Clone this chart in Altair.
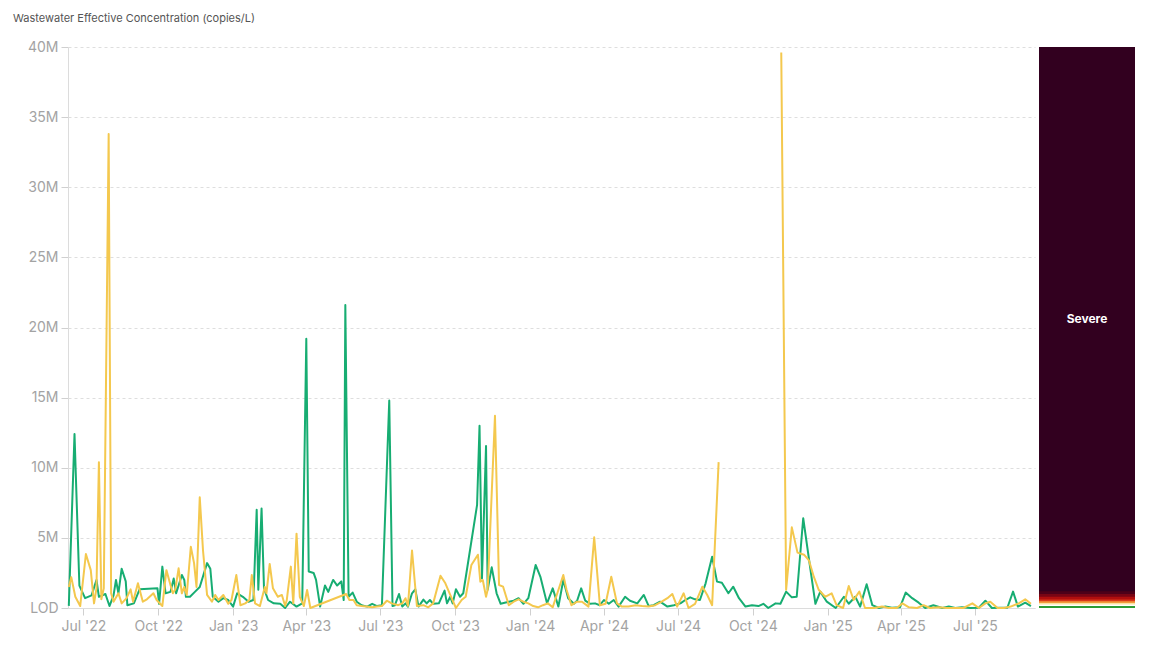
import altair as alt
import pandas as pd

chart_title = "Wastewater Effective Concentration (copies/L)"

# Green series (values in millions of copies/L)
green_dates = [
    "2022-06-13", "2022-06-20", "2022-06-26", "2022-07-03", "2022-07-11", "2022-07-17", "2022-07-20",
    "2022-07-28", "2022-08-02", "2022-08-07", "2022-08-10", "2022-08-13", "2022-08-17", "2022-08-22",
    "2022-08-24", "2022-09-01", "2022-09-08", "2022-09-30", "2022-10-02", "2022-10-06", "2022-10-10",
    "2022-10-16", "2022-10-20", "2022-10-23", "2022-10-30", "2022-11-02", "2022-11-04", "2022-11-09",
    "2022-11-15", "2022-11-21", "2022-11-30", "2022-12-04", "2022-12-07", "2022-12-14", "2022-12-20",
    "2022-12-26", "2023-01-01", "2023-01-06", "2023-01-13", "2023-01-20", "2023-01-26", "2023-01-30",
    "2023-02-01", "2023-02-05", "2023-02-08", "2023-02-13", "2023-02-20", "2023-02-28", "2023-03-06",
    "2023-03-12", "2023-03-20", "2023-03-27", "2023-04-01", "2023-04-04", "2023-04-10", "2023-04-13",
    "2023-04-18", "2023-04-24", "2023-04-28", "2023-05-04", "2023-05-09", "2023-05-14", "2023-05-17",
    "2023-05-19", "2023-05-23", "2023-05-28", "2023-06-02", "2023-06-08", "2023-06-15", "2023-06-21",
    "2023-06-27", "2023-07-03", "2023-07-12", "2023-07-16", "2023-07-19", "2023-07-24", "2023-07-28",
    "2023-08-01", "2023-08-04", "2023-08-09", "2023-08-13", "2023-08-17", "2023-08-23", "2023-08-27",
    "2023-08-31", "2023-09-04", "2023-09-11", "2023-09-18", "2023-09-21", "2023-09-25", "2023-09-28",
    "2023-10-02", "2023-10-07", "2023-10-11", "2023-10-28", "2023-10-31", "2023-11-03", "2023-11-08",
    "2023-11-10", "2023-11-15", "2023-11-21", "2023-11-26", "2023-12-06", "2023-12-12", "2023-12-18",
    "2023-12-24", "2023-12-30", "2024-01-08", "2024-01-14", "2024-01-22", "2024-01-29", "2024-02-05",
    "2024-02-11", "2024-02-17", "2024-02-24", "2024-02-28", "2024-03-04", "2024-03-09", "2024-03-15",
    "2024-03-21", "2024-03-27", "2024-04-01", "2024-04-07", "2024-04-13", "2024-04-19", "2024-04-27",
    "2024-05-03", "2024-05-12", "2024-05-20", "2024-05-26", "2024-06-01", "2024-06-09", "2024-06-18",
    "2024-06-26", "2024-07-04", "2024-07-10", "2024-07-16", "2024-07-22", "2024-07-28", "2024-08-04",
    "2024-08-12", "2024-08-18", "2024-08-24", "2024-09-01", "2024-09-07", "2024-09-14", "2024-09-22",
    "2024-09-30", "2024-10-08", "2024-10-14", "2024-10-20", "2024-10-29", "2024-11-04", "2024-11-11",
    "2024-11-18", "2024-11-24", "2024-12-02", "2024-12-11", "2024-12-17", "2024-12-23", "2024-12-31",
    "2025-01-11", "2025-01-21", "2025-01-27", "2025-02-04", "2025-02-10", "2025-02-18", "2025-02-25",
    "2025-03-05", "2025-03-13", "2025-03-21", "2025-03-31", "2025-04-07", "2025-04-15", "2025-04-23",
    "2025-05-01", "2025-05-11", "2025-05-22", "2025-05-30", "2025-06-07", "2025-06-15", "2025-06-26",
    "2025-07-06", "2025-07-14", "2025-07-22", "2025-08-01", "2025-08-10", "2025-08-17", "2025-08-23",
    "2025-09-01", "2025-09-08",
]
green_values = [
    0.15, 12.4, 1.6, 0.7, 0.9, 2.0, 0.8,
    1.0, 0.14, 0.9, 2.0, 1.05, 2.8, 1.9,
    0.2, 0.33, 1.33, 1.4, 0.3, 2.95, 1.05,
    1.15, 2.1, 1.05, 2.35, 2.0, 0.8, 0.8,
    1.15, 1.5, 3.2, 2.8, 0.8, 0.45, 0.7,
    0.57, 0.1, 1.05, 0.8, 0.45, 0.57, 7.0,
    1.3, 7.1, 1.4, 0.57, 0.33, 0.3, 0.0,
    0.45, 0.1, 0.33, 19.2, 2.6, 2.5, 2.0,
    0.1, 1.6, 1.15, 2.0, 1.6, 1.9, 0.57,
    21.6, 0.8, 1.1, 0.45, 0.2, 0.1, 0.3,
    0.14, 0.2, 14.8, 0.14, 0.2, 1.0, 0.1,
    0.33, 0.1, 1.05, 1.33, 0.1, 0.6, 0.33,
    0.57, 0.3, 0.33, 1.24, 0.33, 0.8, 0.33,
    1.33, 0.8, 1.05, 7.35, 13.0, 2.1, 11.55,
    1.3, 2.9, 1.05, 0.3, 0.45, 0.52, 0.7,
    0.3, 0.7, 3.07, 2.2, 0.33, 1.4, 0.1,
    2.0, 0.7, 0.3, 0.52, 1.4, 0.52, 0.3,
    0.33, 0.2, 0.57, 0.3, 0.57, 0.1, 0.8,
    0.52, 0.33, 0.93, 0.14, 0.2, 0.45, 0.1,
    0.2, 0.33, 0.57, 0.76, 0.62, 0.57, 1.76,
    3.66, 1.88, 1.8, 1.05, 1.52, 0.7, 0.1,
    0.2, 0.14, 0.3, 0.0, 0.33, 0.3, 1.17,
    0.76, 0.8, 6.4, 2.7, 0.3, 1.17, 0.45,
    0.0, 0.8, 0.3, 0.8, 0.1, 1.7, 0.2,
    0.0, 0.1, 0.02, 0.05, 1.1, 0.7, 0.38,
    0.0, 0.2, 0.0, 0.1, 0.0, 0.05, 0.0,
    0.02, 0.52, 0.0, 0.02, 0.02, 1.17, 0.1,
    0.38, 0.14,
]

# Yellow series (values in millions of copies/L); no reports after the gap start until November 2024
yellow_dates = [
    "2022-06-13", "2022-06-16", "2022-06-21", "2022-06-27", "2022-07-04", "2022-07-10", "2022-07-14",
    "2022-07-17", "2022-07-20", "2022-07-23", "2022-07-26", "2022-08-01", "2022-08-04", "2022-08-07",
    "2022-08-13", "2022-08-17", "2022-08-23", "2022-08-28", "2022-08-31", "2022-09-06", "2022-09-12",
    "2022-09-17", "2022-09-25", "2022-09-29", "2022-10-06", "2022-10-11", "2022-10-16", "2022-10-19",
    "2022-10-22", "2022-10-26", "2022-10-30", "2022-11-02", "2022-11-05", "2022-11-10", "2022-11-14",
    "2022-11-17", "2022-11-21", "2022-11-25", "2022-11-30", "2022-12-06", "2022-12-10", "2022-12-14",
    "2022-12-20", "2022-12-26", "2022-12-30", "2023-01-05", "2023-01-10", "2023-01-16", "2023-01-21",
    "2023-01-24", "2023-01-28", "2023-02-03", "2023-02-09", "2023-02-11", "2023-02-15", "2023-02-19",
    "2023-02-25", "2023-03-02", "2023-03-06", "2023-03-08", "2023-03-13", "2023-03-16", "2023-03-20",
    "2023-03-24", "2023-03-29", "2023-04-02", "2023-04-06", "2023-05-20", "2023-05-24", "2023-05-29",
    "2023-06-02", "2023-06-08", "2023-06-14", "2023-06-21", "2023-06-27", "2023-07-03", "2023-07-09",
    "2023-07-15", "2023-07-23", "2023-07-28", "2023-08-01", "2023-08-04", "2023-08-09", "2023-08-15",
    "2023-08-23", "2023-08-29", "2023-09-04", "2023-09-13", "2023-09-19", "2023-09-25", "2023-10-02",
    "2023-10-09", "2023-10-14", "2023-10-21", "2023-10-29", "2023-11-01", "2023-11-04", "2023-11-08",
    "2023-11-10", "2023-11-19", "2023-11-24", "2023-11-29", "2023-12-06", "2023-12-12", "2023-12-18",
    "2023-12-24", "2023-12-30", "2024-01-05", "2024-01-11", "2024-01-17", "2024-01-23", "2024-01-29",
    "2024-02-11", "2024-02-15", "2024-02-21", "2024-02-28", "2024-03-05", "2024-03-13", "2024-03-20",
    "2024-03-27", "2024-04-03", "2024-04-10", "2024-04-17", "2024-04-23", "2024-05-01", "2024-05-10",
    "2024-05-18", "2024-05-26", "2024-06-03", "2024-06-11", "2024-06-18", "2024-06-24", "2024-06-30",
    "2024-07-08", "2024-07-14", "2024-07-22", "2024-07-31", "2024-08-06", "2024-08-12", "2024-08-20",
    "2024-11-05", "2024-11-11", "2024-11-18", "2024-11-25", "2024-12-03", "2024-12-09", "2024-12-15",
    "2024-12-21", "2024-12-29", "2025-01-06", "2025-01-12", "2025-01-20", "2025-01-27", "2025-02-02",
    "2025-02-09", "2025-02-16", "2025-02-27", "2025-03-09", "2025-03-17", "2025-03-27", "2025-04-03",
    "2025-04-11", "2025-04-21", "2025-04-29", "2025-05-07", "2025-05-18", "2025-05-28", "2025-06-07",
    "2025-06-17", "2025-06-28", "2025-07-06", "2025-07-14", "2025-07-20", "2025-07-29", "2025-08-06",
    "2025-08-14", "2025-08-24", "2025-09-01", "2025-09-08",
]
yellow_values = [
    1.5, 2.2, 0.8, 0.14, 3.85, 2.7, 0.33,
    1.4, 10.4, 0.62, 1.4, 33.8, 1.05, 0.45,
    1.05, 0.33, 0.7, 1.33, 0.45, 1.76, 0.45,
    0.62, 1.05, 0.57, 0.14, 2.7, 1.64, 1.05,
    1.33, 2.83, 1.05, 1.5, 0.93, 4.37, 3.2,
    1.5, 7.9, 4.1, 0.93, 0.45, 0.93, 0.57,
    0.93, 0.3, 0.57, 2.35, 0.2, 0.33, 0.57,
    2.35, 0.33, 0.14, 1.5, 1.05, 3.14, 1.4,
    0.8, 0.93, 0.14, 0.57, 2.95, 0.33, 5.3,
    0.8, 0.14, 1.28, 0.0, 1.0, 0.57, 0.57,
    0.2, 0.14, 0.1, 0.05, 0.1, 0.14, 0.52,
    0.33, 0.2, 0.33, 0.7, 0.14, 4.1, 0.14,
    0.2, 0.05, 0.33, 2.3, 1.76, 0.93, 0.0,
    0.57, 0.8, 3.07, 3.8, 1.88, 2.0, 0.8,
    1.3, 13.7, 1.64, 1.52, 0.2, 0.45, 0.62,
    0.45, 0.33, 0.14, 0.05, 0.2, 0.33, 0.05,
    2.35, 1.3, 0.2, 0.45, 0.45, 0.1, 5.04,
    0.2, 0.3, 2.23, 0.33, 0.1, 0.1, 0.2,
    0.14, 0.1, 0.2, 0.45, 0.7, 1.0, 0.1,
    1.05, 0.0, 0.3, 1.52, 0.93, 0.2, 10.4,
    39.6, 1.3, 5.75, 3.95, 3.8, 3.4, 2.23,
    1.3, 0.8, 1.05, 0.2, 0.0, 1.57, 0.57,
    1.17, 0.0, 0.0, 0.1, 0.0, 0.0, 0.33,
    0.05, 0.0, 0.2, 0.0, 0.05, 0.0, 0.0,
    0.0, 0.33, 0.0, 0.33, 0.45, 0.0, 0.0,
    0.1, 0.33, 0.62, 0.3,
]
yellow_gap_start = "2024-08-20"

series_names = ["Site A", "Site B"]
series_colors = ["#17ad72", "#f4c84e"]

# Level scale shown on the right (lower bound of each level, millions of copies/L)
level_labels = ["", "", "", "", "", "", "", "", "Severe"]
level_lo = [0.0, 0.15, 0.25, 0.35, 0.48, 0.6, 0.8, 1.0, 1.2]
level_hi = [0.15, 0.25, 0.35, 0.48, 0.6, 0.8, 1.0, 1.2, 40.0]
level_colors = ["#2c9c34", "#ffffff", "#fbe2a0", "#f29b3c", "#d8361a",
                "#b00e0e", "#780514", "#4d0019", "#32001f"]

y_ticks = [0, 5, 10, 15, 20, 25, 30, 35, 40]
x_domain = ["2022-06-12", "2025-09-13"]

green_df = pd.DataFrame({"date": pd.to_datetime(green_dates), "value": green_values,
                         "series": series_names[0], "seg": "g"})
yellow_df = pd.DataFrame({"date": pd.to_datetime(yellow_dates), "value": yellow_values,
                          "series": series_names[1]})
yellow_df["seg"] = ["y1" if d <= pd.Timestamp(yellow_gap_start) else "y2" for d in yellow_df["date"]]

y_scale = alt.Scale(domain=[0, 40], nice=False, zero=True)
x_scale = alt.Scale(domain=x_domain, nice=False)
color_scale = alt.Scale(domain=series_names, range=series_colors)

x_axis = alt.Axis(format="%b '%y", tickCount={"interval": "month", "step": 3}, grid=False,
                  title=None, labelColor="#a3a3a3", labelFontSize=14, tickColor="#d0d0d0",
                  domainColor="#dcdcdc", tickSize=7, labelPadding=4)
y_axis = alt.Axis(values=y_ticks, title=None,
                  labelExpr="datum.value == 0 ? 'LOD' : datum.value + 'M'",
                  labelColor="#a3a3a3", labelFontSize=14, tickColor="#d0d0d0", tickSize=7,
                  domainColor="#dcdcdc", grid=True, gridDash=[3, 3], gridColor="#dedede",
                  labelPadding=3, minExtent=55, maxExtent=55)

def line_layer(df):
    return alt.Chart(df).mark_line(strokeWidth=2, strokeJoin="round").encode(
        x=alt.X("date:T", scale=x_scale, axis=x_axis),
        y=alt.Y("value:Q", scale=y_scale, axis=y_axis),
        color=alt.Color("series:N", scale=color_scale, legend=None),
        detail="seg:N",
    )

lines = alt.layer(line_layer(green_df), line_layer(yellow_df)).properties(width=967, height=561)

level_df = pd.DataFrame({"label": level_labels, "lo": level_lo, "hi": level_hi,
                         "color": level_colors, "x0": 0.0, "x1": 1.0})
top_value = max(level_hi)
band_x = alt.Scale(domain=[0, 1], nice=False)
# each level is painted from its lower bound up to the top; higher levels cover the rest (no seams)
band_rect = alt.Chart(level_df).mark_rect().encode(
    x=alt.X("x0:Q", scale=band_x, axis=None),
    x2="x1:Q",
    y=alt.Y("lo:Q", scale=y_scale, axis=None),
    y2=alt.datum(top_value),
    color=alt.Color("color:N", scale=None, legend=None),
    order=alt.Order("lo:Q"),
)
band_text = alt.Chart(level_df).transform_filter("datum.label != ''").transform_calculate(
    mid="(datum.lo + datum.hi) / 2", xc="(datum.x0 + datum.x1) / 2"
).mark_text(color="white", fontWeight="bold", fontSize=12).encode(
    x=alt.X("xc:Q", scale=band_x, axis=None),
    y=alt.Y("mid:Q", scale=y_scale, axis=None),
    text="label:N",
)
band = alt.layer(band_rect, band_text).properties(width=96, height=561)

chart = alt.hconcat(lines, band, spacing=4).properties(
    title=alt.TitleParams(chart_title, anchor="start", fontSize=11, color="#555555",
                          fontWeight="normal", offset=16)
).configure(font="Inter").configure_view(stroke=None)

chart.save("out.html", embed_options={"renderer": "svg", "actions": False})
